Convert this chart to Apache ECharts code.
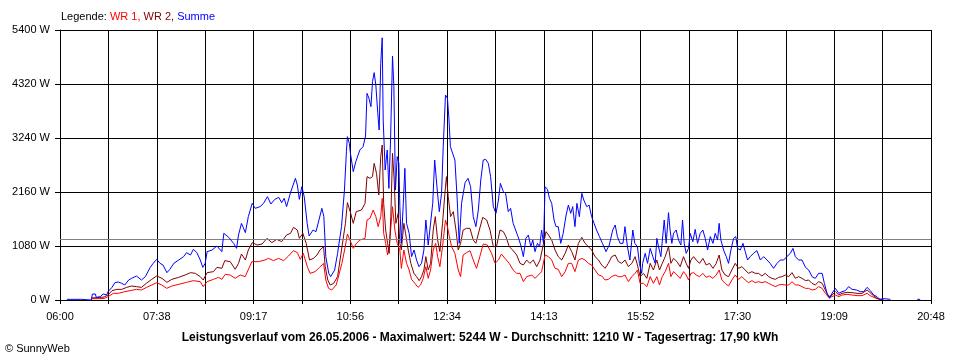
<!DOCTYPE html>
<html>
<head>
<meta charset="utf-8">
<script src="https://cdn.jsdelivr.net/npm/echarts@6/dist/echarts.min.js"></script>
<style>html,body{margin:0;padding:0;background:#fff}#c{width:960px;height:360px}</style>
</head>
<body>
<div id="c"></div>
<script>
// time in minutes after 06:00, power in W
const sumMin = [7,22,23,32,33,36,37,41,42.5,44,47.6,49,53,56,59.5,63,66,70,73,78,83,87,92,95,98.6,102,105,109,112,116,121,126,129,133,136,139.5,143,145.6,148,150,155,160,165,167,172,177,180,182,185,189,192,196,199,204,207.5,211.5,215,219,223,226,228.6,231,235,240,242,244,246.6,249,252,254,258,261,264,267,269,271,274,276,280,283,287,290,292,293,295,
296,299,301.6,305.7,309,311.5,313,315,317,318.6,320.3,322,324,325.4,327,328.5,329.5,331.5,333.6,335.3,337,339,340.4,342,343.8,345.5,346.5,348,350,351.6,353.3,356,358.4,361,363.5,366,368.6,371,373,375.4,377,380,382,384.6,386.7,389,390.7,393,395,396.5,398,400,402.6,405,407,409.4,413,416,418.6,421.3,424,426.5,429,431.5,434,436.7,439,441.8,444.5,447,449,452,454.3,457,459.4,462,464.5,467,469.7,472.4,475,477.5,480,482,484.3,486.7,489,491,493,494.5,497,499,501.3,503.7,505.7,508,510.5,513,516,518.3,520.7,522.7,525,527,529.5,532,534,537,539.4,542,544.5,547,550,553,556.7,560,563.5,566,568.3,571,574,576,578.5,581,584,586,588.7,590.7,593,
594,596.6,599,601.7,604.4,606.8,608.5,610.2,612.6,614.6,616,618,620.4,622,623.8,625.5,628.2,630.6,633,634.7,636.4,638.4,640.8,642.5,645.2,647.6,650,652.7,655.4,657.8,660.2,663,665.7,668,670.4,672,673.8,676.5,679.3,681.6,684,686.7,689,690.8,693.5,696.3,698.6,701,703.7,707,710.5,714,717.4,720.8,724,727.5,731,734.4,737.8,741,744.6,747.3,749.7,753,756.5,760,763.3,766.7,770,773.5,777,779.3,782,784.7,787,790.5,794,797.3,800.7,804,807.5,812,816,819.4,822.8,826.2,829.6,833,835.7,839.8,846.6,850,874,877];
const sumW = [13,13,0,0,120,120,53,67,100,120,100,167,253,347,360,333,300,400,433,480,400,467,653,733,813,733,700,547,613,733,800,867,947,900,1013,947,800,653,733,967,1000,1080,967,1333,1253,1133,1033,1300,1533,1347,1667,1933,1833,1867,1933,2067,1920,2013,2053,1947,2033,1867,2147,2433,2300,2013,2267,2067,1533,1280,1400,1367,1600,1833,1667,867,533,467,600,933,1467,2200,2967,3267,3133,
2947,2567,2767,3000,3067,3280,4133,4033,3867,4367,4547,4300,3733,3400,4733,5244,3600,2600,3000,2233,3200,4880,4267,2200,2867,2733,1867,1133,1933,2633,1533,1333,867,1000,800,667,733,1000,1600,1100,1133,1933,2800,2200,1767,2133,3067,4100,4033,3633,3067,3100,2800,2000,1133,1933,2347,2433,2267,1667,1467,1800,2400,2800,2813,2733,2467,1867,1733,2000,2333,2167,2133,1767,1833,1533,1400,1267,1100,867,1233,1300,1067,1200,967,1133,1067,1400,1133,2267,2213,2033,1933,1600,1467,1467,1133,1333,1700,1900,1733,1867,1467,1933,1667,2133,2000,1867,1900,1667,1533,1400,1267,1133,967,1100,1400,1500,1267,1133,1133,1467,1067,800,1400,1133,1067,733,533,
733,933,733,1033,867,733,1233,1067,867,1300,1600,1133,1747,1400,1133,1333,1400,1200,1100,1600,1133,933,1033,1333,1167,1413,1133,1333,1400,1233,1000,1267,1133,1333,1200,1533,1200,1000,867,733,1000,1233,1267,1033,1000,1133,967,800,867,933,987,800,867,800,733,633,733,800,800,867,933,1033,867,800,800,653,600,467,433,533,533,333,133,33,133,233,133,167,187,267,213,200,167,167,253,187,100,67,13,27,13,'-',13,13];

const wr2Min = [32,40,45,49,53,58,63,68,73,78,83,88,93.5,98.6,104,109,114,121,127.5,133,138,143,146,150,156.5,160,165,168,173.5,178.6,182,185,189,192,196,201,206,211,216,221,226,231,235,238,242,244,247.6,251,254.4,258.5,262,265,268.7,270.4,273,275.5,279,283,287,291,293,296,
299,302,307.4,311,313,316,318.6,320.3,322.7,325,327,328.5,330,332,334,335.6,337.3,339,340.7,342.4,344.8,346.5,348,350.6,352.3,355,357.7,360.8,363.5,366.2,368.6,371,373,375.4,377.8,380.5,382.6,385,387.3,390,392.4,394,395.8,398.2,401,403.7,406,408.4,411,414.5,418,421.3,424,427.5,431,435,438.4,441.8,445,448.6,452,454.7,458,461.5,465.6,469,472.4,475.8,479,482.6,486,489.4,493,495.5,498,501.3,504.7,508,511.5,515,518.3,521.7,525,528.5,532,535.3,538.7,542,545.5,549,552.3,555.7,559,562.5,566,569.3,572.7,576,579.5,583,586.3,588.7,591.4,
594.9,598.3,601.7,605,608.5,611.2,614,617,620.4,622.8,625.5,629,632.3,635.7,638.4,640.8,643.2,646,648.6,652,655.4,658.8,662.2,665.7,669,672,674.8,678.2,681.6,685,688.4,691.8,695.2,698.6,702,705.4,708.8,712.2,715.6,719,722.5,725.8,729.3,732.7,736,739.5,742.9,746.3,749.7,753,756.5,760,763.3,766.7,770,773.5,777,780.3,783.7,787,790.5,794,797.3,802.4,807.5,812.6,817.7,822.8,826,829.6,833,836.4,840];
const wr2W = [40,50,60,100,187,213,213,253,280,267,253,333,413,480,433,353,413,453,500,547,533,467,400,547,567,653,633,787,767,613,733,920,800,1000,1147,1100,1120,1233,1147,1213,1167,1300,1333,1453,1400,1233,1333,1133,800,833,900,1000,1067,667,400,300,333,467,1000,1533,1947,1760,
1533,1767,1800,1933,2467,2433,2467,2733,2533,2100,2867,3100,1933,1400,1133,933,1667,2933,2400,1533,1733,1133,1000,1533,1333,1000,733,533,467,387,467,600,867,600,733,1400,1667,1200,967,1533,2133,2467,2067,1667,1767,1400,1000,1133,1400,1433,1433,1200,1133,1400,1653,1600,1400,1067,1067,1400,1367,1267,1067,1000,900,733,700,800,733,800,667,800,1133,1367,1300,1200,1000,867,800,933,1100,967,800,1133,1253,1133,1067,1000,867,800,700,633,733,867,900,767,733,800,667,733,867,700,467,
533,433,733,600,800,600,733,867,1067,733,833,767,667,867,733,633,800,867,800,733,833,700,733,633,733,900,600,500,467,600,733,633,667,600,533,567,533,533,480,533,467,433,413,453,467,500,467,547,433,467,433,387,400,333,300,367,333,200,67,100,167,100,133,153,147,133,133,200,147,80,33,13,0];

const wr1Min = [32,45,49,54.4,59.5,64.6,71.4,78,83,88.4,93.5,98.6,103.7,108.8,114,122.4,129,136,143,146,150,156.5,161.6,165,168.4,173.5,178.6,183.7,188.8,195.6,202.4,209,212.6,217.7,222.8,228,233,238,242,245,248,252.4,255,260,264.6,268.7,271,273.8,277,281.6,287.4,290.8,293,296,
299,302.3,305.7,311,313,316,319.3,322,324.4,327,328.5,330,332,334,336,339,341.4,343.8,346.5,348,350.6,353.3,356,358.4,361.8,365,367.6,370.3,373,375.4,377.8,380.5,383,385,387.3,390,393,395,397,399.2,402.6,406,408.4,411,414.5,418,421.3,424.7,428,431.5,435.6,440,443.5,447,450,453.7,458,462,465.6,469,472.4,475.8,481,484.3,487.7,491,494.5,498,501.3,504.7,508,511.5,515,518.3,521.7,525,528.5,532,535.3,538.7,542,545.5,549,552.3,555.7,559,562.5,566,569.3,572.7,576,579.5,583,586.3,588.7,591.4,
594.9,598.3,601.7,605,608.5,611.2,614,617,620.4,622.8,625.5,629,632.3,635.7,638.4,640.8,643.2,646,648.6,652,655.4,658.8,662.2,665.7,669,672,674.8,678.2,681.6,685,688.4,691.8,695.2,698.6,702,705.4,708.8,712.2,715.6,719,722.5,725.8,729.3,732.7,736,739.5,742.9,746.3,749.7,753,756.5,760,763.3,766.7,770,773.5,777,780.3,783.7,787,790.5,794,797.3,802.4,807.5,812.6,817.7,822.8,826,829.6,833,836.4];
const wr1W = [25,30,67,133,133,160,187,213,200,253,300,347,300,233,280,320,353,387,367,267,367,413,453,413,513,500,433,500,467,767,767,800,833,787,833,787,880,987,947,813,933,653,533,567,653,733,400,233,200,300,733,1067,1320,1180,
1033,1133,1200,1233,1600,1633,1800,1667,1467,1667,2033,1333,1133,900,1133,1867,1400,1133,1000,633,1000,733,600,413,333,253,300,433,667,433,600,1000,1133,867,667,1067,1600,1467,1267,1067,933,600,467,900,947,987,800,633,867,1120,1100,933,733,800,920,833,733,600,533,533,367,467,500,433,500,567,900,867,800,633,613,467,567,733,733,567,800,833,800,733,700,600,500,480,400,413,467,500,467,467,500,367,467,533,600,333,
333,267,467,333,467,300,467,567,733,467,567,500,433,567,500,400,533,547,500,467,533,453,480,433,500,600,400,333,280,400,500,413,467,400,347,387,347,367,347,367,333,300,267,300,313,300,300,367,300,300,267,233,233,200,213,267,233,133,53,67,100,67,100,113,100,87,87,133,87,53,27,7];

const yTicks = [0, 1080, 2160, 3240, 4320, 5400];
const averageW = 1210;
const titleText = 'Leistungsverlauf vom 26.05.2006 - Maximalwert: 5244 W - Durchschnitt: 1210 W - Tagesertrag: 17,90 kWh';

function pairs(mins, vals) {
  return mins.map((m, i) => [m * 60, vals[i]]);
}
function pad(n) { return (n < 10 ? '0' : '') + n; }

const FONT = 'Liberation Sans';
const chart = echarts.init(document.getElementById('c'), null, {renderer: 'canvas'});
chart.setOption({
  animation: false,
  backgroundColor: '#fff',
  grid: {left: 60, right: 29, top: 30, bottom: 60, show: false},
  xAxis: {
    type: 'value', min: 0, max: 53280, interval: 2960,
    axisLine: {show: true, lineStyle: {color: '#000', width: 1}},
    axisTick: {show: true, length: 4, lineStyle: {color: '#000'}},
    splitLine: {show: true, lineStyle: {color: '#000', width: 1}},
    axisLabel: {
      margin: 11, color: '#000', fontFamily: FONT, fontSize: 11,
      showMinLabel: true, showMaxLabel: true,
      formatter: function (v) {
        const k = Math.round(v / 2960);
        if (k % 2 !== 0) return '';
        const t = 6 * 3600 + v;
        return pad(Math.floor(t / 3600)) + ':' + pad(Math.floor((t % 3600) / 60));
      }
    }
  },
  yAxis: {
    type: 'value', min: yTicks[0], max: yTicks[yTicks.length - 1], interval: 1080,
    axisLine: {show: true, lineStyle: {color: '#000', width: 1}},
    axisTick: {show: true, length: 5, lineStyle: {color: '#000'}},
    splitLine: {show: true, lineStyle: {color: '#000', width: 1}},
    axisLabel: {margin: 10, color: '#000', fontFamily: FONT, fontSize: 11,
      formatter: function (v) { return String(v) + ' W'; }}
  },
  series: [
    {
      name: 'WR 1', type: 'line', data: pairs(wr1Min, wr1W), showSymbol: false, symbol: 'none',
      lineStyle: {color: '#ff0000', width: 1}, itemStyle: {color: '#ff0000'}, z: 3,
      markLine: {
        silent: true, symbol: ['none', 'none'], label: {show: false},
        lineStyle: {color: '#808080', width: 1, type: 'solid'},
        data: [{yAxis: averageW}]
      }
    },
    {
      name: 'WR 2', type: 'line', data: pairs(wr2Min, wr2W), showSymbol: false, symbol: 'none',
      lineStyle: {color: '#800000', width: 1}, itemStyle: {color: '#800000'}, z: 4
    },
    {
      name: 'Summe', type: 'line', data: pairs(sumMin, sumW), showSymbol: false, symbol: 'none',
      connectNulls: false,
      lineStyle: {color: '#0000ff', width: 1}, itemStyle: {color: '#0000ff'}, z: 5
    }
  ],
  graphic: [
    {
      type: 'text', left: 61, top: 11,
      style: {
        text: '{k|Legende: }{a|WR 1, }{b|WR 2, }{c|Summe}',
        rich: {
          k: {fill: '#000', fontFamily: FONT, fontSize: 11},
          a: {fill: '#ff0000', fontFamily: FONT, fontSize: 11},
          b: {fill: '#800000', fontFamily: FONT, fontSize: 11},
          c: {fill: '#0000ff', fontFamily: FONT, fontSize: 11}
        }
      }
    },
    {
      type: 'text', left: 'center', top: 332,
      style: {text: titleText, fill: '#000', fontFamily: FONT, fontSize: 12, fontWeight: 'bold'}
    },
    {
      type: 'text', left: 5, top: 343,
      style: {text: '\u00a9 SunnyWeb', fill: '#000', fontFamily: FONT, fontSize: 11}
    }
  ]
});
</script>
</body>
</html>
